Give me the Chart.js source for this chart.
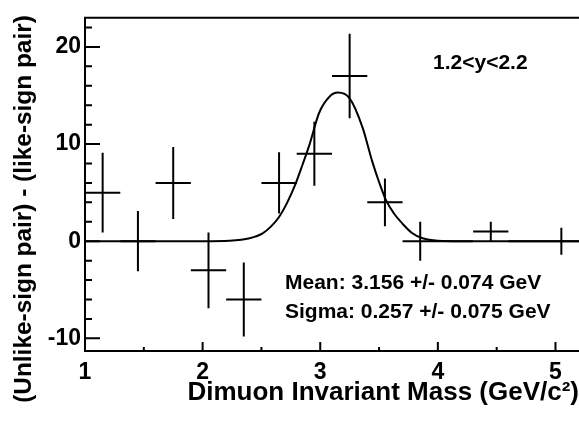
<!DOCTYPE html>
<html><head><meta charset="utf-8">
<style>html,body{margin:0;padding:0;background:#fff;overflow:hidden;} #wrap{width:579px;height:425px;}</style>
<script src="https://cdn.jsdelivr.net/npm/chart.js@4/dist/chart.umd.min.js"></script>
</head><body><div id="wrap"><canvas id="c" width="579" height="425"></canvas></div>
<script>
// ---- data ----
const binCenters   = [1.15, 1.45, 1.75, 2.05, 2.35, 2.65, 2.95, 3.25, 3.55, 3.85, 4.15, 4.45, 4.75, 5.05];
const binHalfWidth = [0.15, 0.15, 0.15, 0.15, 0.15, 0.15, 0.15, 0.15, 0.15, 0.15, 0.15, 0.15, 0.15, 0.15];
const counts       = [5, 0, 6, -3, -6, 6, 9, 17, 4, 0, 0, 1, 0, 0];
const countErrors  = [4.1, 3.1, 3.7, 3.9, 3.8, 3.15, 3.3, 4.35, 2.45, 2.0, 0, 1.0, 0, 1.4];
const fitMass   = [1.0, 2.0, 2.23, 2.4, 2.51, 2.58, 2.65, 2.72, 2.79, 2.85, 2.91, 2.99, 3.08, 3.15, 3.25, 3.36, 3.44, 3.5, 3.56, 3.63, 3.70, 3.78, 3.87, 4.0, 4.2, 5.2];
const fitValues = [0.0, 0.0, 0.05, 0.3, 0.8, 1.5, 2.5, 4.0, 5.9, 7.9, 10.0, 13.2, 14.9, 15.3, 14.7, 11.7, 8.3, 6.1, 4.2, 2.8, 1.8, 0.85, 0.3, 0.05, 0.0, 0.0];
const xTickValues = [1, 1.5, 2, 2.5, 3, 3.5, 4, 4.5, 5];
const xTickLabels = ['1', '', '2', '', '3', '', '4', '', '5'];
const yTickValues = [-10, -8, -6, -4, -2, 0, 2, 4, 6, 8, 10, 12, 14, 16, 18, 20, 22];
const yTickLabels = ['-10', '', '', '', '', '0', '', '', '', '', '10', '', '', '', '', '20', ''];
const xTitle = 'Dimuon Invariant Mass (GeV/c\u00B2)';
const yTitle = '(Unlike-sign pair) - (like-sign pair)';
const rapidityLabel = '1.2<y<2.2';
const fitLabels = ['Mean: 3.156 +/- 0.074 GeV', 'Sigma: 0.257 +/- 0.075 GeV'];

const FONT = '"Liberation Sans", Arial, Helvetica, sans-serif';

const histPoints = binCenters.map((x, i) => ({x: x, y: counts[i]}));
const fitPoints = fitMass.map((x, i) => ({x: x, y: fitValues[i]}));

const errorBarPlugin = {
  id: 'errorBars',
  afterDatasetsDraw(chart) {
    const ctx = chart.ctx, xs = chart.scales.x, ys = chart.scales.y, a = chart.chartArea;
    ctx.save();
    ctx.beginPath(); ctx.rect(a.left, a.top, a.right - a.left, a.bottom - a.top); ctx.clip();
    ctx.strokeStyle = '#000'; ctx.lineWidth = 2; ctx.lineCap = 'butt';
    binCenters.forEach((x, i) => {
      const px = xs.getPixelForValue(x), py = ys.getPixelForValue(counts[i]);
      ctx.beginPath();
      ctx.moveTo(xs.getPixelForValue(x - binHalfWidth[i]), py);
      ctx.lineTo(xs.getPixelForValue(x + binHalfWidth[i]), py);
      if (countErrors[i] > 0) {
        ctx.moveTo(px, ys.getPixelForValue(counts[i] + countErrors[i]));
        ctx.lineTo(px, ys.getPixelForValue(counts[i] - countErrors[i]));
      }
      ctx.stroke();
    });
    ctx.restore();
  }
};

const framePlugin = {
  id: 'frame',
  afterDraw(chart) {
    const ctx = chart.ctx, xs = chart.scales.x, ys = chart.scales.y, a = chart.chartArea;
    ctx.save();
    ctx.strokeStyle = '#000';
    ctx.lineWidth = 2;
    ctx.beginPath();
    ctx.moveTo(a.right + 2, a.top); ctx.lineTo(a.left, a.top); ctx.lineTo(a.left, a.bottom); ctx.lineTo(a.right + 2, a.bottom);
    ctx.stroke();
    ctx.beginPath();
    xs.ticks.forEach((t, i) => {
      const px = xs.getPixelForValue(t.value);
      const len = xTickLabels[i] ? 9 : 4;
      ctx.moveTo(px, a.bottom); ctx.lineTo(px, a.bottom - len);
    });
    ys.ticks.forEach((t, i) => {
      const py = ys.getPixelForValue(t.value);
      const len = yTickLabels[i] ? 15 : 7;
      ctx.moveTo(a.left, py); ctx.lineTo(a.left + len, py);
    });
    ctx.stroke();
    // annotation texts
    ctx.fillStyle = '#000';
    ctx.textBaseline = 'alphabetic';
    ctx.textAlign = 'left';
    ctx.font = 'bold 21px ' + FONT;
    ctx.fillText(rapidityLabel, 433, 69);
    ctx.fillText(fitLabels[0], 285, 289);
    ctx.fillText(fitLabels[1], 285, 318);
    // y title
    ctx.translate(24.5, 209);
    ctx.rotate(-Math.PI / 2);
    ctx.textAlign = 'center';
    ctx.textBaseline = 'middle';
    ctx.font = 'bold 24.4px ' + FONT;
    ctx.fillText(yTitle, 0, 0);
    ctx.restore();
  }
};

new Chart(document.getElementById('c'), {
  type: 'scatter',
  data: {
    datasets: [
      {label: 'data', data: histPoints, pointRadius: 0, showLine: false, borderColor: '#000'},
      {label: 'fit', data: fitPoints, showLine: true, pointRadius: 0, borderColor: '#000', borderWidth: 2, fill: false, cubicInterpolationMode: 'monotone'}
    ]
  },
  options: {
    responsive: false, animation: false, devicePixelRatio: 1,
    layout: {padding: {top: 14, right: 0, left: 0, bottom: 0}},
    plugins: {legend: {display: false}, tooltip: {enabled: false}, title: {display: false}},
    scales: {
      x: {
        type: 'linear', position: 'bottom', min: 1, max: 5.2,
        afterBuildTicks: s => { s.ticks = xTickValues.map(v => ({value: v})); },
        afterFit: s => { s.height = 74; },
        grid: {display: false, drawTicks: false}, border: {display: false},
        ticks: {autoSkip: false, maxRotation: 0, padding: 8, color: '#000',
          font: {family: FONT, size: 23, weight: 'bold'},
          callback: (v, i) => xTickLabels[i]},
        title: {display: true, text: xTitle, align: 'end', color: '#000',
          font: {family: FONT, size: 26, weight: 'bold', lineHeight: 1},
          padding: {top: 0, bottom: 19}}
      },
      y: {
        type: 'linear', min: -11.3, max: 23,
        afterBuildTicks: s => { s.ticks = yTickValues.map(v => ({value: v})); },
        afterFit: s => { s.width = 85; },
        grid: {display: false, drawTicks: false}, border: {display: false},
        ticks: {autoSkip: false, padding: 4, color: '#000',
          font: {family: FONT, size: 23, weight: 'bold'},
          callback: (v, i) => yTickLabels[i]}
      }
    }
  },
  plugins: [errorBarPlugin, framePlugin]
});
</script>
</body></html>
